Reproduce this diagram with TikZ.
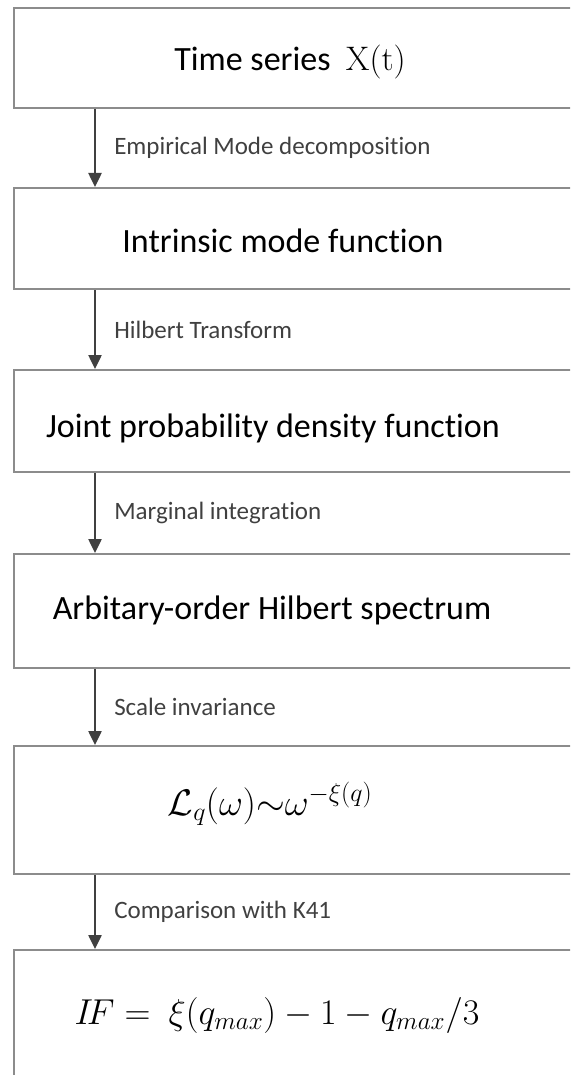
\RequirePackage{fix-cm}
\documentclass[tikz,border=0pt]{standalone}
\usepackage{amsmath,amssymb}
\usepackage[no-math]{fontspec}
\setmainfont{Carlito}[Ligatures=NoCommon]
\usetikzlibrary{arrows.meta,positioning}
\tikzset{box/.style={draw=black!45,line width=2pt,minimum width=590pt,anchor=north west,inner sep=0pt},
  txt/.style={anchor=base,inner sep=0pt,font=\fontsize{34}{40}\selectfont},
  lbl/.style={anchor=west,xshift=18pt,inner sep=0pt,font=\fontsize{25}{30}\selectfont},
  arr/.style={-{Triangle[length=14pt,width=13pt]},line width=2.5pt,black!75}}

\begin{document}
\begin{tikzpicture}[x=1pt,y=-1pt]
\useasboundingbox (0,0) rectangle (570,1075);
\clip (0,0) rectangle (570,1075);
% boxes
\node[box,minimum height=100pt] (b1) at (13,7) {};
\node[box,minimum height=101pt] (b2) at (13,187) {};
\node[box,minimum height=102pt] (b3) at (13,369) {};
\node[box,minimum height=114pt] (b4) at (13,553) {};
\node[box,minimum height=128pt] (b5) at (13,745) {};
\node[box,minimum height=160pt] (b6) at (13,949) {};
% texts
\node[txt] (t1) at (290,71) {Time series \ $\mathrm{X}(\mathrm{t})$};
\node[txt] (t2) at (283,252) {Intrinsic mode function};
\node[txt] (t3) at (273,437) {Joint probability density function};
\node[txt] (t4) at (272,619) {Arbitary-order Hilbert spectrum};
\node[txt,font=\fontsize{37}{42}\selectfont] (t5) at (270,815) {$\mathcal{L}_q(\omega){\sim}\omega^{-\xi(q)}$};
\node[txt,font=\fontsize{36}{42}\selectfont] (t6) at (277,1024) {$I\!F =\ \xi(q_{max}) - 1 - q_{max}/3$};
% arrows
\coordinate (ax) at (95,0);
\draw[arr] (b1.south -| ax) -- node[lbl]{Empirical Mode decomposition} (b2.north -| ax);
\draw[arr] (b2.south -| ax) -- node[lbl]{Hilbert Transform} (b3.north -| ax);
\draw[arr] (b3.south -| ax) -- node[lbl]{Marginal integration} (b4.north -| ax);
\draw[arr] (b4.south -| ax) -- node[lbl]{Scale invariance} (b5.north -| ax);
\draw[arr] (b5.south -| ax) -- node[lbl]{Comparison with K41} (b6.north -| ax);
\end{tikzpicture}
\end{document}
